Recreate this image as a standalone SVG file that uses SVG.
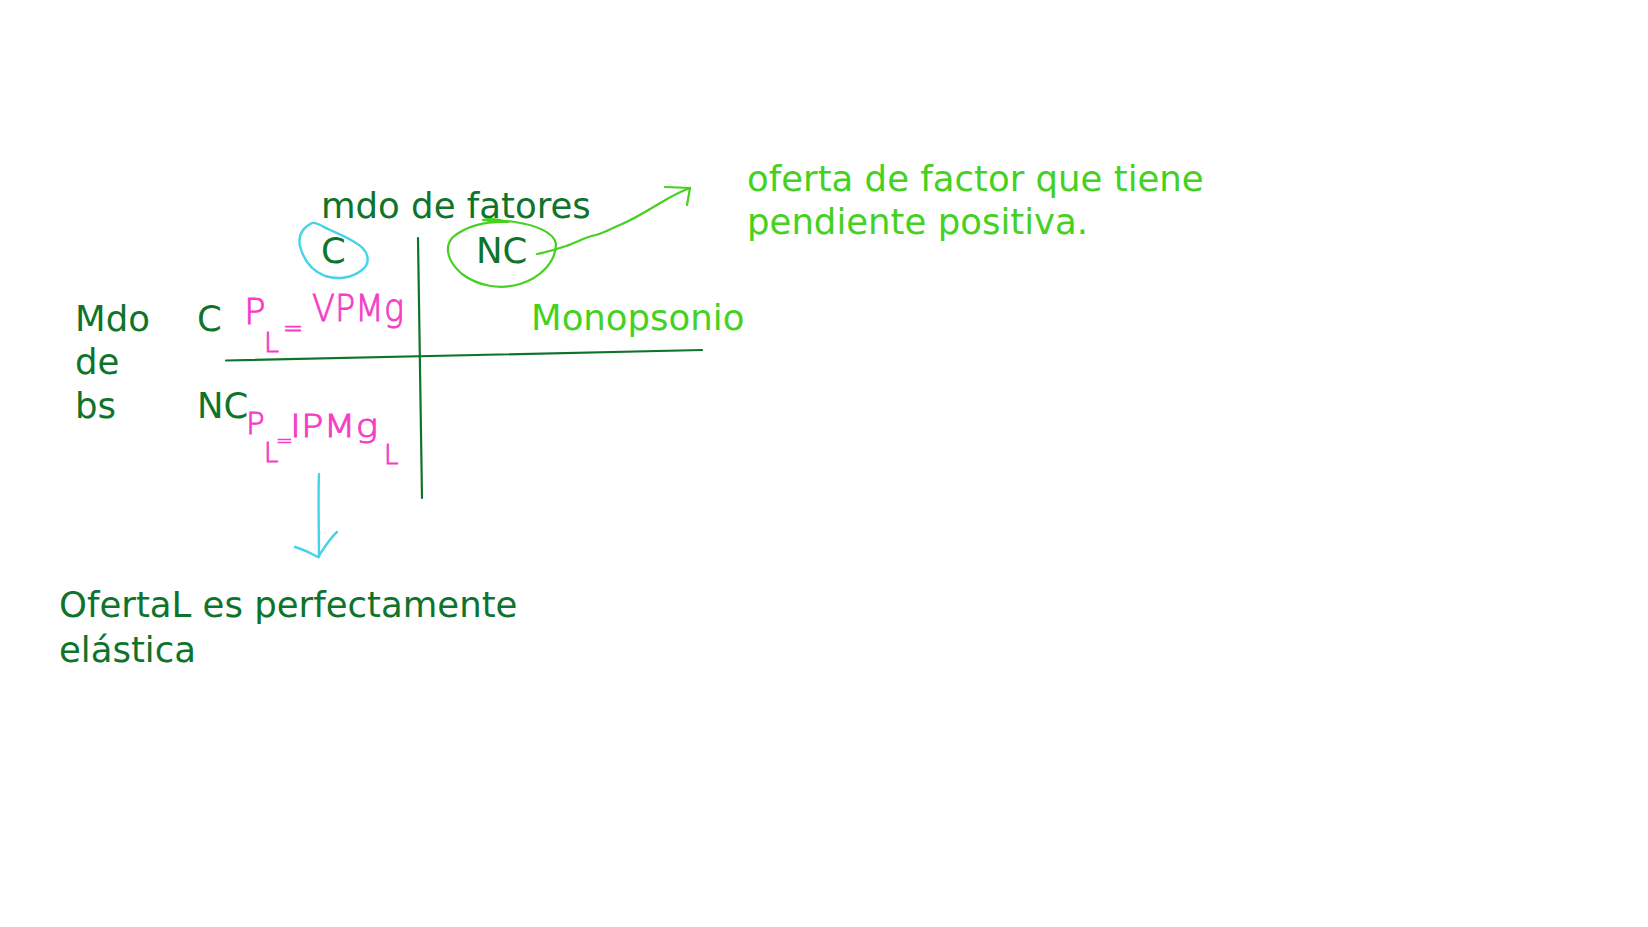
<svg xmlns="http://www.w3.org/2000/svg" width="1648" height="927" viewBox="0 0 1648 927">
<style>
.t{font-family:"DejaVu Sans","Liberation Sans",sans-serif;font-size:35.5px}
.dg{fill:#0f742b}
.lg{fill:#45d11f}
.pk{font-family:"DejaVu Sans","Liberation Sans",sans-serif;font-weight:200;fill:#f43ec6;stroke:#f43ec6;stroke-width:0.9}
.ink{fill:none;stroke-linecap:round;stroke-linejoin:round}
.axis{stroke:#0f742b;stroke-width:2.2}
.cy{stroke:#45d3e8;stroke-width:2.4}
.gr{stroke:#45d11f;stroke-width:2.2}
</style>
<rect width="1648" height="927" fill="#ffffff"/>
<g id="title"><text class="t dg" x="321" y="218">mdo de fatores</text></g>
<g id="top-C"><text class="t dg" x="321" y="263">C</text></g>
<g id="top-NC"><text class="t dg" x="476" y="263">NC</text></g>
<g id="mdo-bs"><text class="t dg" x="75" y="331">Mdo</text><text class="t dg" x="75" y="374">de</text><text class="t dg" x="75" y="418">bs</text></g>
<g id="left-C"><text class="t dg" x="197" y="331">C</text></g>
<g id="left-NC"><text class="t dg" x="197" y="418">NC</text></g>
<g id="monopsonio"><text class="t lg" x="531" y="330">Monopsonio</text></g>
<g id="oferta-factor"><text class="t lg" x="747" y="191">oferta de factor que tiene</text><text class="t lg" x="747" y="234">pendiente positiva.</text></g>
<g id="oferta-L"><text class="t dg" x="59" y="617">OfertaL es perfectamente</text><text class="t dg" x="59" y="662">elástica</text></g>
<g id="formula-top">
<text class="pk" x="244" y="324" font-size="36">P</text>
<text class="pk" x="264" y="352" font-size="27">L</text>
<text class="pk" x="283" y="336" font-size="24">=</text>
<text class="pk" x="312" y="321" font-size="38" textLength="92" lengthAdjust="spacingAndGlyphs">VPMg</text>
</g>
<g id="formula-bottom">
<text class="pk" x="246" y="434" font-size="31">P</text>
<text class="pk" x="264" y="462" font-size="26">L</text>
<text class="pk" x="276" y="447" font-size="20">=</text>
<text class="pk" x="290" y="437" font-size="32" textLength="88" lengthAdjust="spacingAndGlyphs">IPMg</text>
<text class="pk" x="384" y="464" font-size="26">L</text>
</g>
<g id="connectors">
<line class="ink axis" x1="226" y1="360.5" x2="702" y2="350"/>
<line class="ink axis" x1="418" y1="238" x2="422" y2="498"/>
<path class="ink cy" d="M312,223 C302,228 298,236 300,246 C303,258 310,270 325,276 C338,280 352,278 362,270 C372,262 368,250 356,243 C345,236 336,233 328,229 C322,226 316,222 312,223 Z"/>
<path class="ink gr" d="M483,220 C490,218 498,219 508,222 C486,221 465,226 452,238 C444,248 448,262 462,274 C478,286 500,290 520,284 C540,278 556,262 556,244 C554,232 535,225 515,222 C500,220 490,221 483,220"/>
<path class="ink gr" d="M537,254 C548,252 556,249 566,246 C578,242 585,237 596,235 C606,232 612,228 622,224 C636,218 648,210 662,202 C672,196 682,191 690,188"/>
<path class="ink gr" d="M665,187 L690,188 L687,205"/>
<path class="ink cy" d="M319,474 C318,500 319,530 319,557"/>
<path class="ink cy" d="M295,547 C303,549 312,554 318,557 C324,548 330,538 337,532"/>
</g>
</svg>
